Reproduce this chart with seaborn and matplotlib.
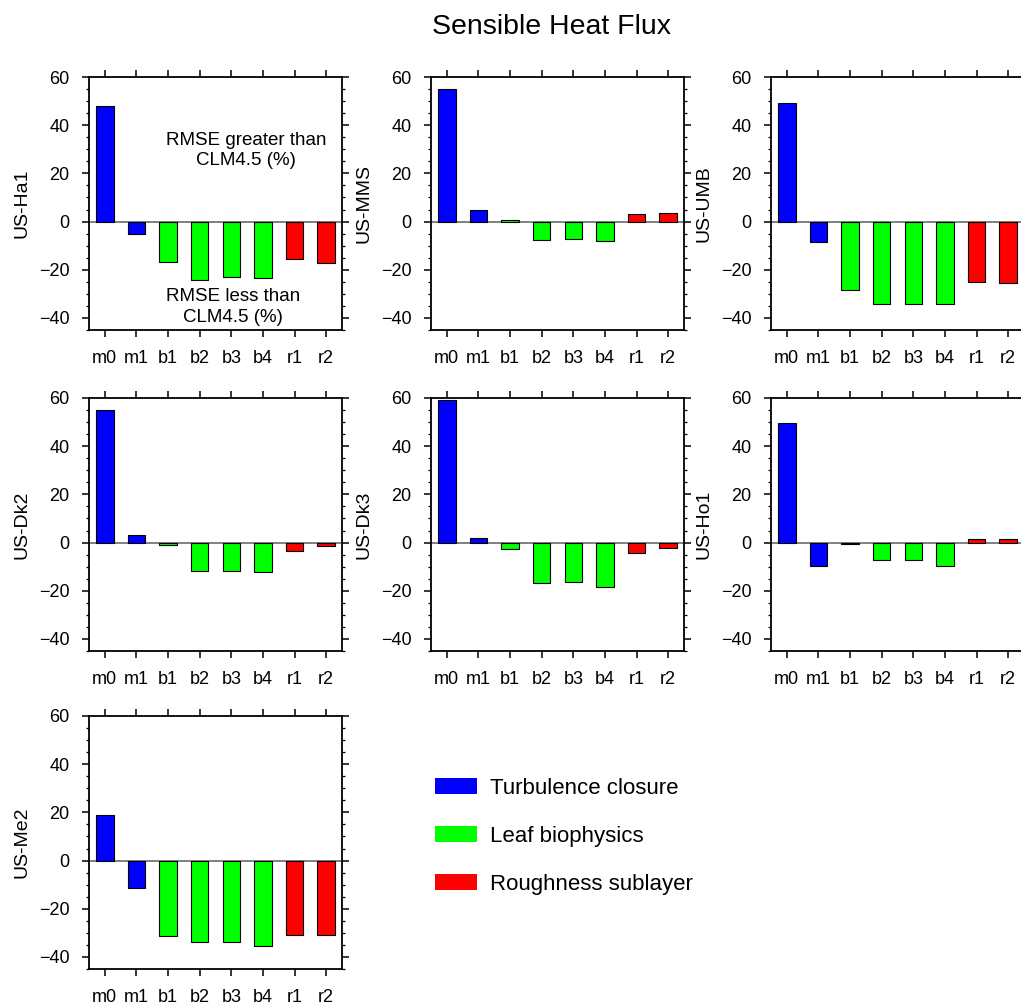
import matplotlib
matplotlib.use("Agg")
import matplotlib.pyplot as plt
from matplotlib.patches import Patch
from matplotlib.ticker import MultipleLocator
import seaborn as sns
import pandas as pd

# ---- data ----
labels = ["m0", "m1", "b1", "b2", "b3", "b4", "r1", "r2"]
groups = ["Turbulence closure", "Turbulence closure",
          "Leaf biophysics", "Leaf biophysics", "Leaf biophysics", "Leaf biophysics",
          "Roughness sublayer", "Roughness sublayer"]
sites = ["US-Ha1", "US-MMS", "US-UMB", "US-Dk2", "US-Dk3", "US-Ho1", "US-Me2"]
us_ha1 = [48.0, -5.1, -16.8, -24.3, -22.9, -23.6, -15.6, -17.4]
us_mms = [55.0, 5.0, 0.7, -7.6, -7.3, -7.9, 3.3, 3.6]
us_umb = [49.1, -8.3, -28.4, -34.2, -34.1, -34.2, -25.2, -25.4]
us_dk2 = [55.1, 3.3, -1.0, -11.8, -11.8, -12.4, -3.5, -1.5]
us_dk3 = [59.0, 1.9, -2.5, -16.7, -16.5, -18.3, -4.2, -2.2]
us_ho1 = [49.6, -9.7, -0.4, -7.4, -7.4, -9.6, 1.4, 1.4]
us_me2 = [18.9, -11.5, -31.1, -33.7, -33.9, -35.4, -30.8, -31.0]
site_values = [us_ha1, us_mms, us_umb, us_dk2, us_dk3, us_ho1, us_me2]

palette = {"Turbulence closure": "#0000FF",
           "Leaf biophysics": "#00FF00",
           "Roughness sublayer": "#FF0000"}

sns.set_theme(style="white")
plt.rcParams["font.family"] = ["Liberation Sans", "DejaVu Sans"]
plt.rcParams["text.color"] = "black"
plt.rcParams["axes.labelcolor"] = "black"
plt.rcParams["xtick.color"] = "black"
plt.rcParams["ytick.color"] = "black"

W, H = 1021, 1008
fig = plt.figure(figsize=(W / 100, H / 100), dpi=100)

col_left = [89, 431, 771]
row_top = [77, 398, 716]
aw, ah = 253, 253

for i, (site, vals) in enumerate(zip(sites, site_values)):
    r, c = divmod(i, 3)
    left = col_left[c] / W
    bottom = 1 - (row_top[r] + ah) / H
    ax = fig.add_axes([left, bottom, aw / W, ah / H])
    df = pd.DataFrame({"label": labels, "value": vals, "group": groups})
    sns.barplot(data=df, x="label", y="value", hue="group", palette=palette,
                order=labels, dodge=False, width=0.55, edgecolor="black",
                linewidth=0.8, saturation=1, legend=False, ax=ax, zorder=3)
    ax.axhline(0, color="#808080", lw=1.4, zorder=2)
    ax.set_xlim(-0.5, 7.5)
    ax.set_ylim(-45, 60)
    ax.set_yticks([-40, -20, 0, 20, 40, 60])
    ax.yaxis.set_minor_locator(MultipleLocator(5))
    ax.set_xlabel("")
    ax.set_ylabel(site, fontsize=14, labelpad=6)
    for s in ax.spines.values():
        s.set_visible(True)
        s.set_color("black")
        s.set_linewidth(1.3)
    ax.tick_params(axis="both", which="major", direction="out", length=5,
                   width=1.1, labelsize=13, color="black",
                   top=True, right=True, bottom=True, left=True)
    ax.tick_params(axis="y", which="minor", direction="out", length=2.5,
                   width=0.9, left=True, right=True, color="black")
    ax.tick_params(axis="x", which="major", pad=9.5)
    ax.tick_params(axis="y", which="major", pad=9)

    if i == 0:
        ax.text(1.94, 29.5, "RMSE greater than\nCLM4.5 (%)", ha="left",
                va="center", multialignment="center", fontsize=13.5,
                linespacing=1.25, zorder=4)
        ax.text(1.94, -35.5, "RMSE less than\nCLM4.5 (%)", ha="left",
                va="center", multialignment="center", fontsize=13.5,
                linespacing=1.25, zorder=4)

fig.text(551 / W, 1 - 27 / H, "Sensible Heat Flux", ha="center", va="center",
         fontsize=20.5)

handles = [Patch(facecolor=palette[g], edgecolor="none") for g in palette]
fig.legend(handles, list(palette.keys()), loc="upper left",
           bbox_to_anchor=(435 / W, 1 - 778 / H), frameon=False,
           fontsize=16, handlelength=1.9, handleheight=0.72,
           handletextpad=0.58, labelspacing=1.21, borderpad=0,
           borderaxespad=0)

fig.savefig("out.png", dpi=100)
